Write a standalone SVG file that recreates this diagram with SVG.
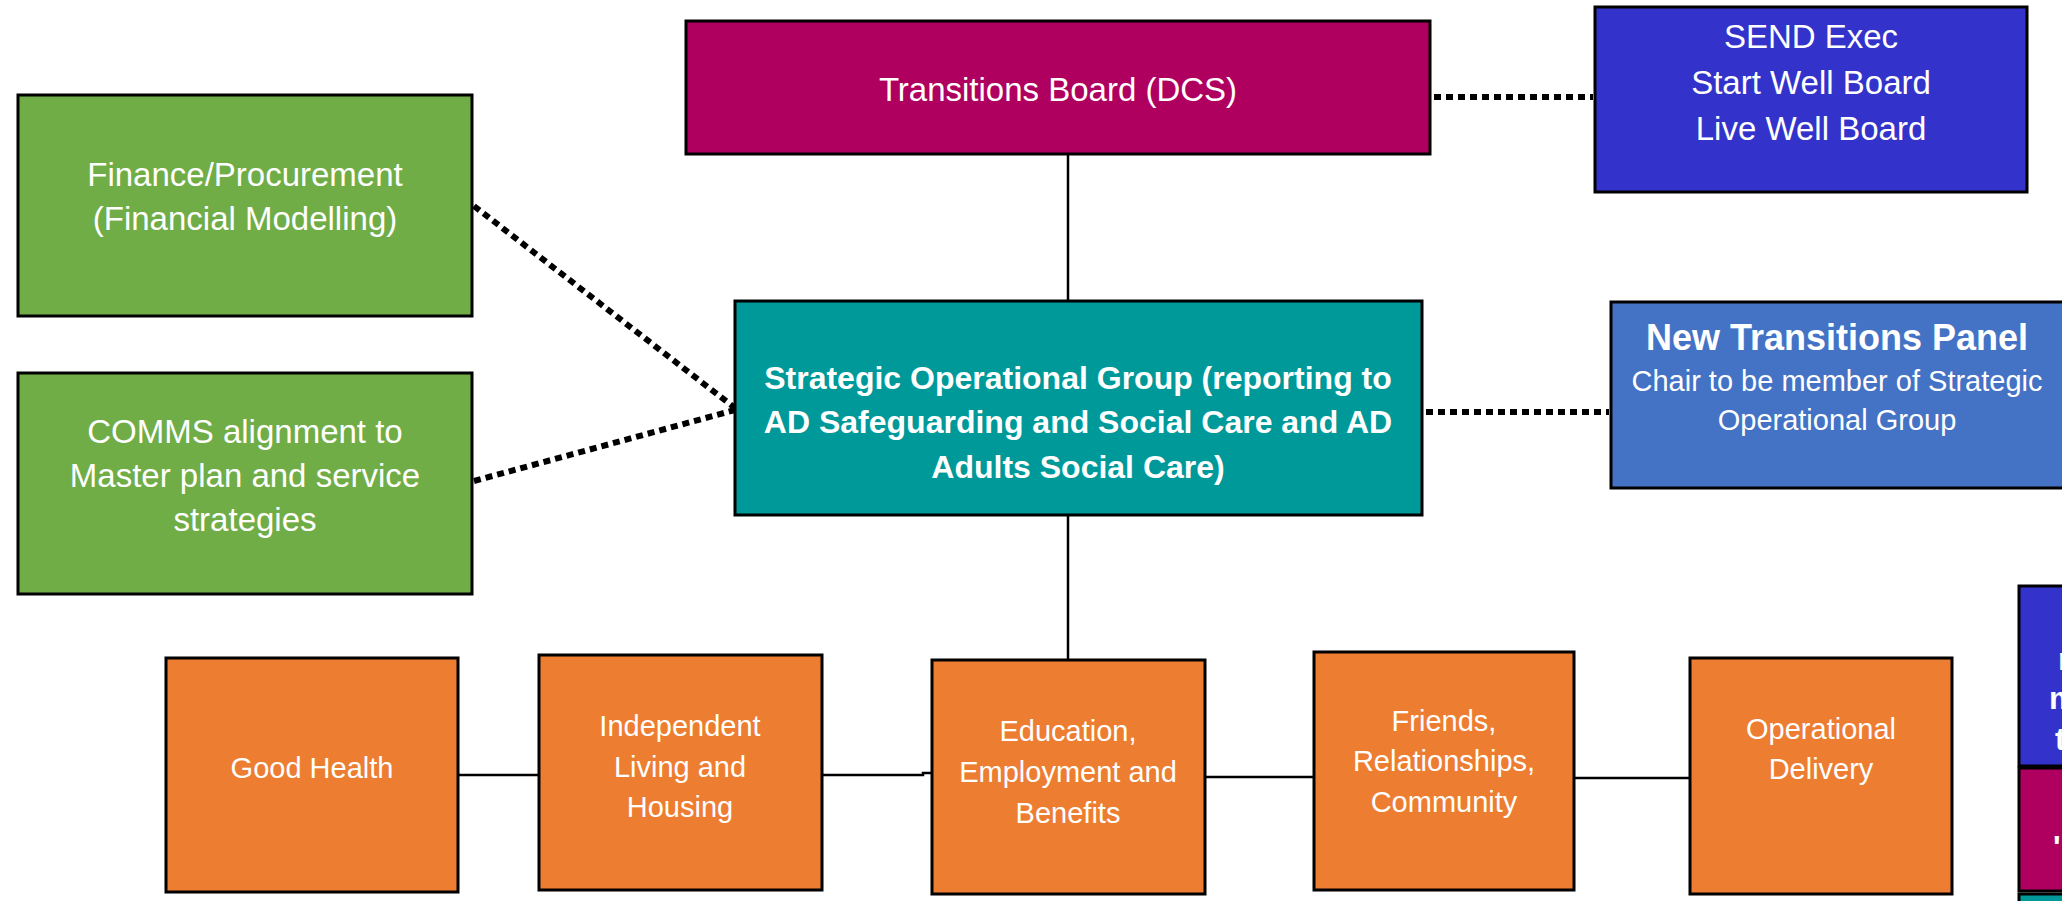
<svg xmlns="http://www.w3.org/2000/svg" width="2062" height="901" viewBox="0 0 2062 901">
<style>
.box{stroke:#000;stroke-width:3}
.t{font-family:"Liberation Sans",Arial,sans-serif;fill:#fff;text-anchor:middle}
.r33{font-size:33px}
.r29{font-size:29px}
.b32{font-size:32px;font-weight:bold}
.b36{font-size:36px;font-weight:bold}
.solid{stroke:#000;stroke-width:2.5;fill:none}
.dot{stroke:#000;stroke-width:6;stroke-dasharray:7 5;fill:none}
</style>
<rect width="2062" height="901" fill="#fff"/>
<g id="connectors">
<line class="solid" x1="1068" y1="154" x2="1068" y2="301"/>
<line class="solid" x1="1068" y1="515" x2="1068" y2="659"/>
<line class="solid" x1="458" y1="775" x2="539" y2="775"/>
<polyline class="solid" points="822,775 923,775 923,773 932,773"/>
<line class="solid" x1="1205" y1="777" x2="1314" y2="777"/>
<line class="solid" x1="1574" y1="778" x2="1690" y2="778"/>
<line class="dot" x1="1434" y1="97" x2="1593" y2="97"/>
<line class="dot" x1="1426" y1="412" x2="1609" y2="412"/>
<line class="dot" x1="474" y1="206" x2="735" y2="408"/>
<line class="dot" x1="474" y1="481" x2="735" y2="410"/>
</g>
<g id="transitions-board">
<rect class="box" x="686" y="21" width="744" height="133" fill="#AF0060"/>
<text class="t r33" x="1058" y="101">Transitions Board (DCS)</text>
</g>
<g id="send-exec">
<rect class="box" x="1595" y="7" width="432" height="185" fill="#3333CC"/>
<text class="t r33" x="1811" y="48">SEND Exec</text>
<text class="t r33" x="1811" y="94">Start Well Board</text>
<text class="t r33" x="1811" y="140">Live Well Board</text>
</g>
<g id="finance">
<rect class="box" x="18" y="95" width="454" height="221" fill="#70AD47"/>
<text class="t r33" x="245" y="186">Finance/Procurement</text>
<text class="t r33" x="245" y="230">(Financial Modelling)</text>
</g>
<g id="comms">
<rect class="box" x="18" y="373" width="454" height="221" fill="#70AD47"/>
<text class="t r33" x="245" y="443">COMMS alignment to</text>
<text class="t r33" x="245" y="487">Master plan and service</text>
<text class="t r33" x="245" y="531">strategies</text>
</g>
<g id="strategic-group">
<rect class="box" x="735" y="301" width="687" height="214" fill="#009999"/>
<text class="t b32" x="1078" y="389">Strategic Operational Group (reporting to</text>
<text class="t b32" x="1078" y="433">AD Safeguarding and Social Care and AD</text>
<text class="t b32" x="1078" y="478">Adults Social Care)</text>
</g>
<g id="new-transitions-panel">
<rect class="box" x="1611" y="302" width="460" height="186" fill="#4472C4"/>
<text class="t b36" x="1837" y="350">New Transitions Panel</text>
<text class="t r29" x="1837" y="391">Chair to be member of Strategic</text>
<text class="t r29" x="1837" y="430">Operational Group</text>
</g>
<g id="good-health">
<rect class="box" x="166" y="658" width="292" height="234" fill="#ED7D31"/>
<text class="t r29" x="312" y="778">Good Health</text>
</g>
<g id="independent-living">
<rect class="box" x="539" y="655" width="283" height="235" fill="#ED7D31"/>
<text class="t r29" x="680" y="736">Independent</text>
<text class="t r29" x="680" y="777">Living and</text>
<text class="t r29" x="680" y="817">Housing</text>
</g>
<g id="education">
<rect class="box" x="932" y="660" width="273" height="234" fill="#ED7D31"/>
<text class="t r29" x="1068" y="741">Education,</text>
<text class="t r29" x="1068" y="782">Employment and</text>
<text class="t r29" x="1068" y="823">Benefits</text>
</g>
<g id="friends">
<rect class="box" x="1314" y="652" width="260" height="238" fill="#ED7D31"/>
<text class="t r29" x="1444" y="731">Friends,</text>
<text class="t r29" x="1444" y="771">Relationships,</text>
<text class="t r29" x="1444" y="812">Community</text>
</g>
<g id="operational-delivery">
<rect class="box" x="1690" y="658" width="262" height="236" fill="#ED7D31"/>
<text class="t r29" x="1821" y="739">Operational</text>
<text class="t r29" x="1821" y="779">Delivery</text>
</g>
<g id="partial-blue">
<rect class="box" x="2019" y="586" width="60" height="180" fill="#3333CC"/>
<text class="t b32" x="2058" y="670" style="text-anchor:start">r</text>
<text class="t b32" x="2049" y="709" style="text-anchor:start">m</text>
<text class="t b32" x="2055" y="750" style="text-anchor:start">t</text>
</g>
<g id="partial-magenta">
<rect class="box" x="2019" y="768" width="60" height="123" fill="#AF0060"/>
<text class="t b32" x="2053" y="858" style="text-anchor:start">'</text>
</g>
<g id="partial-teal">
<rect class="box" x="2019" y="894" width="60" height="20" fill="#009999"/>
</g>
</svg>
